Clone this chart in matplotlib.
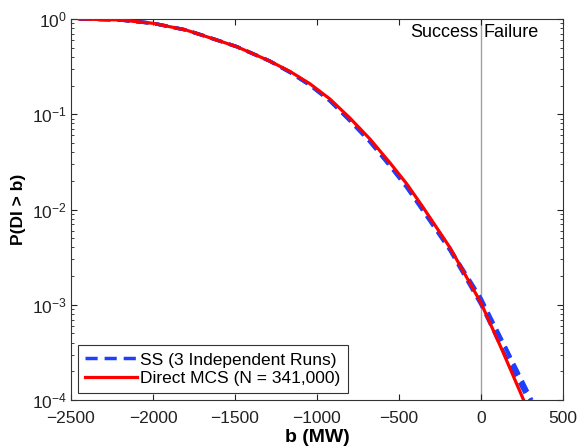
import numpy as np
import matplotlib.pyplot as plt
from matplotlib.ticker import LogLocator, MultipleLocator, NullFormatter

plt.rcParams['font.family'] = ['Liberation Sans', 'DejaVu Sans']
plt.rcParams['mathtext.fontset'] = 'custom'
plt.rcParams['mathtext.rm'] = 'Liberation Sans'
plt.rcParams['mathtext.it'] = 'Liberation Sans:italic'

# Direct MCS curve (b in MW, log10 of P)
b_mcs = [-2450, -2200, -2100, -2000, -1900, -1800, -1700, -1490, -1290, -1165, -1043, -921, -799,
         -677, -555, -453, -352, -189, 0, 130, 260]
logp_mcs = [0.0, -0.01, -0.028, -0.045, -0.08, -0.115, -0.17, -0.29, -0.44, -0.55, -0.68, -0.84, -1.04,
            -1.26, -1.51, -1.73, -1.98, -2.40, -2.98, -3.48, -4.0]

# three subset simulation runs
b_ss1 = [-2450, -2200, -2100, -2000, -1900, -1800, -1700, -1490, -1290, -1165, -1043, -921, -799,
         -677, -555, -453, -352, -189, 0, 150, 300]
logp_ss1 = [0.0, -0.01, -0.028, -0.045, -0.08, -0.115, -0.17, -0.29, -0.44, -0.56, -0.695, -0.86, -1.07,
            -1.29, -1.54, -1.76, -2.01, -2.42, -2.95, -3.45, -4.0]
b_ss2 = [-2450, -2200, -2100, -2000, -1900, -1800, -1700, -1490, -1290, -1165, -1043, -921, -799,
         -677, -555, -453, -352, -189, 0, 160, 310]
logp_ss2 = [0.0, -0.01, -0.028, -0.045, -0.08, -0.115, -0.17, -0.29, -0.44, -0.555, -0.69, -0.855, -1.06,
            -1.28, -1.53, -1.75, -2.00, -2.41, -2.93, -3.48, -4.0]
b_ss3 = [-2450, -2200, -2100, -2000, -1900, -1800, -1700, -1490, -1290, -1165, -1043, -921, -799,
         -677, -555, -453, -352, -189, 0, 140, 290]
logp_ss3 = [0.0, -0.01, -0.028, -0.045, -0.08, -0.115, -0.17, -0.29, -0.44, -0.56, -0.695, -0.86, -1.065,
            -1.29, -1.545, -1.77, -2.02, -2.43, -3.0, -3.5, -4.0]

fig = plt.figure(figsize=(5.78, 4.46), dpi=100)
ax = fig.add_axes([0.1228, 0.1031, 0.8512, 0.8543])

ax.axvline(0, color='#a0a0a0', lw=1.0, zorder=1)

blue = '#1f3fff'
for bb, lp in [(b_ss1, logp_ss1), (b_ss2, logp_ss2), (b_ss3, logp_ss3)]:
    ax.plot(bb, 10 ** np.array(lp), color=blue, lw=2.5, ls=(0, (3.5, 2)), zorder=2)
ax.plot(b_mcs, 10 ** np.array(logp_mcs), color='#ff0000', lw=2.3, zorder=3)

# legend proxies
h1, = ax.plot([], [], color=blue, lw=2.5, ls=(0, (3.5, 2)), label='SS (3 Independent Runs)')
h2, = ax.plot([], [], color='#ff0000', lw=2.3, label='Direct MCS (N = 341,000)')
leg = ax.legend(handles=[h1, h2], loc='lower left', fontsize=12.5, fancybox=False,
                edgecolor='#333333', framealpha=1, borderaxespad=0.4,
                handlelength=3.0, handletextpad=0.2, borderpad=0.4, labelspacing=0.2)
leg.get_frame().set_linewidth(0.8)

ax.text(-18, 0.72, 'Success', ha='right', va='center', fontsize=13)
ax.text(18, 0.72, 'Failure', ha='left', va='center', fontsize=13)

ax.set_yscale('log')
ax.set_xlim(-2500, 500)
ax.set_ylim(1e-4, 1)
ax.xaxis.set_major_locator(MultipleLocator(500))
ax.yaxis.set_major_locator(LogLocator(base=10, numticks=10))
ax.yaxis.set_minor_locator(LogLocator(base=10, subs=np.arange(2, 10), numticks=10))
ax.yaxis.set_minor_formatter(NullFormatter())
ax.tick_params(which='both', direction='in', top=True, right=True, labelsize=12.5, colors='#222222')
ax.tick_params(which='major', length=4, width=0.8)
ax.tick_params(which='minor', length=2, width=0.6)
ax.tick_params(axis='x', pad=8)
ax.tick_params(axis='y', pad=3)
for s in ax.spines.values():
    s.set_color('#333333')
    s.set_linewidth(0.8)

ax.set_xlabel('b (MW)', fontsize=14, fontweight='bold', labelpad=2)
ax.set_ylabel('P(DI > b)', fontsize=12.5, fontweight='bold', labelpad=4)

fig.savefig('out.png', dpi=100)
